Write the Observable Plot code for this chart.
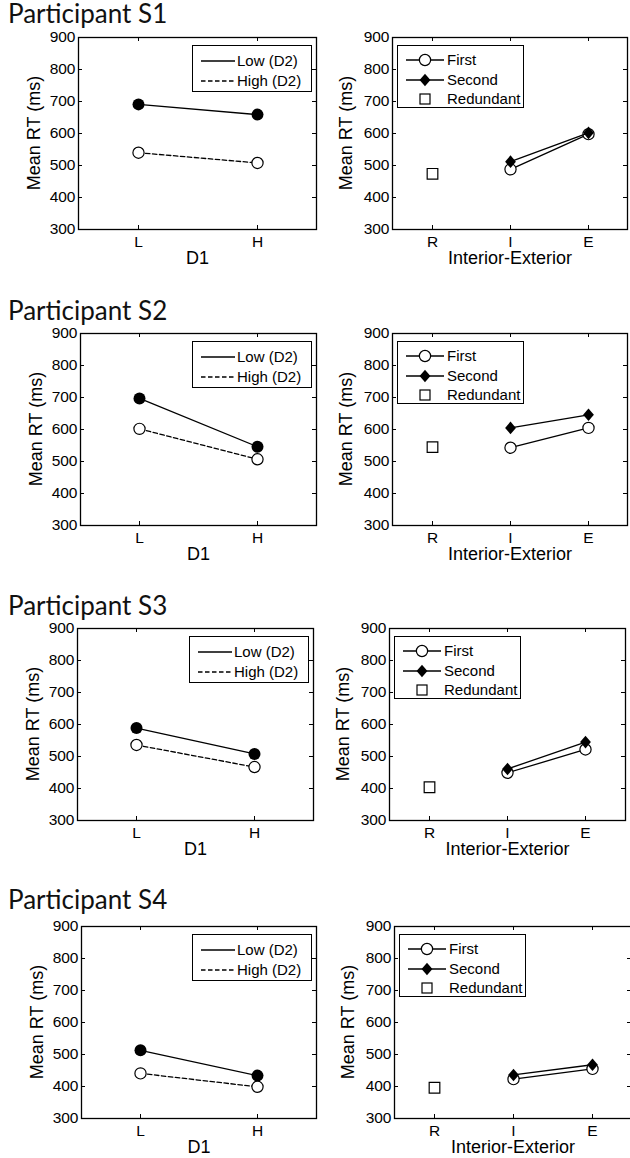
<!DOCTYPE html>
<html><head><meta charset="utf-8">
<script src="https://cdn.jsdelivr.net/npm/d3@7"></script>
<script src="https://cdn.jsdelivr.net/npm/@observablehq/plot@0.6"></script>
<style>
html,body{margin:0;padding:0;background:#fff;}
#page{position:relative;width:630px;height:1158px;overflow:hidden;font-family:"Liberation Sans",Arial,sans-serif;color:#000;}
.abs{position:absolute;}
.legend{position:absolute;background:#fff;border:1px solid #000;box-sizing:border-box;}
</style></head><body><div id="page"></div>
<script>
// ---- data ----
const participants = ["S1", "S2", "S3", "S4"];
const d1Cats = ["L", "H"];
const ieCats = ["R", "I", "E"];
const yTicks = [300, 400, 500, 600, 700, 800, 900];
const lowD2  = [[691, 659], [697, 546], [589, 508], [513, 434]];
const highD2 = [[540, 508], [602, 507], [536, 467], [441, 399]];
const redundant = [474, 545, 404, 396];
const firstIE  = [[488, 598], [543, 605], [449, 522], [423, 455]];
const secondIE = [[512, 602], [605, 646], [461, 545], [436, 468]];

// ---- layout ----
const layout = [
  {top: 37,  titleY: 23,  L: [78, 316], R: [392, 627]},
  {top: 333, titleY: 320, L: [80, 316], R: [392, 627]},
  {top: 628, titleY: 615, L: [77, 313], R: [389, 625]},
  {top: 926, titleY: 909, L: [81, 316], R: [394, 631]}
];
const FH = 192;
const FONT = '"Liberation Sans", Arial, sans-serif';
const page = document.getElementById("page");

// background svg for titles and y-axis labels
const bg = d3.create("svg").attr("class", "abs").style("left", "0px").style("top", "0px")
  .attr("width", 630).attr("height", 1158);
page.appendChild(bg.node());

const diamond = {
  draw(ctx, size) {
    const r = Math.sqrt(size / Math.PI), h = r * 1.05, w = r * 0.9;
    ctx.moveTo(0, -h); ctx.lineTo(w, 0); ctx.lineTo(0, h); ctx.lineTo(-w, 0); ctx.closePath();
  }
};

function panel(cats, frameL, frameR, frameT, xLabel, yDx, dataMarks) {
  const mL = 80, mR = 6, mT = 6, mB = 48;
  const fw = frameR - frameL;
  const chart = Plot.plot({
    width: mL + fw + mR, height: mT + FH + mB,
    marginLeft: mL, marginRight: mR, marginTop: mT, marginBottom: mB,
    style: {fontFamily: FONT, fontSize: "15px", color: "#000", background: "transparent", overflow: "visible"},
    x: {type: "point", domain: cats, padding: 0.5},
    y: {domain: [300, 900]},
    marks: [
      Plot.ruleY(yTicks, {y: d => d, insetRight: fw - 4, stroke: "#000"}),
      Plot.ruleY(yTicks, {y: d => d, insetLeft: fw - 4, stroke: "#000"}),
      Plot.ruleX(cats, {x: d => d, insetTop: FH - 4, stroke: "#000"}),
      Plot.ruleX(cats, {x: d => d, insetBottom: FH - 4, stroke: "#000"}),
      Plot.axisY(yTicks, {tickSize: 0, tickPadding: 3, label: null, fontSize: 15.5}),
      Plot.axisX({tickSize: 0, tickPadding: 6, label: null, fontSize: 15.5}),
      Plot.text([xLabel], {text: d => d, frameAnchor: "bottom", dy: 34, fontSize: 18}),
      ...dataMarks,
      Plot.frame({stroke: "#000", strokeWidth: 1.3})
    ]
  });
  chart.classList.add("abs");
  chart.style.left = (frameL - mL) + "px";
  chart.style.top = (frameT - mT) + "px";
  page.appendChild(chart);
  // y-axis label
  const cx = frameL + yDx, cy = frameT + FH / 2;
  bg.append("text").attr("transform", `translate(${cx},${cy}) rotate(-90)`)
    .attr("text-anchor", "middle").attr("dy", "0.35em")
    .style("font-family", FONT).style("font-size", "18px").attr("fill", "#000")
    .text("Mean RT (ms)");
}

function addLegend(left, top, w, h, rows) {
  const div = document.createElement("div");
  div.className = "legend";
  div.style.left = left + "px"; div.style.top = top + "px";
  div.style.width = w + "px"; div.style.height = h + "px";
  const svg = d3.create("svg").attr("width", w - 2).attr("height", h - 2)
    .style("display", "block").style("font-family", FONT).style("font-size", "15px");
  rows.forEach(r => {
    const g = svg.append("g").attr("transform", `translate(0,${r.y})`);
    if (r.line) g.append("line").attr("x1", r.x1).attr("x2", r.x2).attr("stroke", "#000")
      .attr("stroke-width", 1.3).attr("stroke-dasharray", r.dash || null);
    if (r.sym === "circle") g.append("circle").attr("cx", r.mx).attr("r", 5.6).attr("fill", "#fff").attr("stroke", "#000").attr("stroke-width", 1.2);
    if (r.sym === "diamond") g.append("path").attr("transform", `translate(${r.mx},0)`).attr("d", d3.symbol(diamond, Math.PI * 36)()).attr("fill", "#000");
    if (r.sym === "square") g.append("rect").attr("x", r.mx - 5).attr("y", -5).attr("width", 10).attr("height", 10).attr("fill", "#fff").attr("stroke", "#000").attr("stroke-width", 1.2);
    g.append("text").attr("x", r.tx).attr("dy", "0.35em").attr("fill", "#000").text(r.label);
  });
  div.appendChild(svg.node());
  page.appendChild(div);
}

participants.forEach((p, i) => {
  const lay = layout[i];
  bg.append("text").attr("x", 8).attr("y", lay.titleY).attr("fill", "#111")
    .style("font-family", "Lato, 'Open Sans', sans-serif").style("font-size", "26px").text("Participant " + p);

  const low = d1Cats.map((c, j) => ({cat: c, v: lowD2[i][j]}));
  const high = d1Cats.map((c, j) => ({cat: c, v: highD2[i][j]}));
  panel(d1Cats, lay.L[0], lay.L[1], lay.top, "D1", -44, [
    Plot.line(low, {x: "cat", y: "v", stroke: "#000", strokeWidth: 1.3}),
    Plot.dot(low, {x: "cat", y: "v", r: 6, fill: "#000"}),
    Plot.line(high, {x: "cat", y: "v", stroke: "#000", strokeWidth: 1.3, strokeDasharray: "4.5,2.5"}),
    Plot.dot(high, {x: "cat", y: "v", r: 5.6, fill: "#fff", stroke: "#000", strokeWidth: 1.2})
  ]);
  addLegend(lay.L[1] - 4 - 120, lay.top + 8, 120, 47, [
    {y: 15, line: true, x1: 8, x2: 42, tx: 44, label: "Low (D2)"},
    {y: 35, line: true, x1: 8, x2: 42, dash: "4.5,2.5", tx: 44, label: "High (D2)"}
  ]);

  const ieCatsLines = ["I", "E"];
  const first = ieCatsLines.map((c, j) => ({cat: c, v: firstIE[i][j]}));
  const second = ieCatsLines.map((c, j) => ({cat: c, v: secondIE[i][j]}));
  const red = [{cat: "R", v: redundant[i]}];
  panel(ieCats, lay.R[0], lay.R[1], lay.top, "Interior-Exterior", -46, [
    Plot.line(first, {x: "cat", y: "v", stroke: "#000", strokeWidth: 1.3}),
    Plot.dot(first, {x: "cat", y: "v", r: 5.6, fill: "#fff", stroke: "#000", strokeWidth: 1.2}),
    Plot.line(second, {x: "cat", y: "v", stroke: "#000", strokeWidth: 1.3}),
    Plot.dot(second, {x: "cat", y: "v", r: 6, symbol: diamond, fill: "#000"}),
    Plot.dot(red, {x: "cat", y: "v", r: 6, symbol: "square", fill: "#fff", stroke: "#000", strokeWidth: 1.2})
  ]);
  addLegend(lay.R[0] + 5, lay.top + 8, 127, 63, [
    {y: 14, line: true, x1: 8, x2: 46, sym: "circle", mx: 27, tx: 49, label: "First"},
    {y: 34, line: true, x1: 8, x2: 46, sym: "diamond", mx: 27, tx: 49, label: "Second"},
    {y: 53, line: false, sym: "square", mx: 27, tx: 49, label: "Redundant"}
  ]);
});
</script></body></html>
